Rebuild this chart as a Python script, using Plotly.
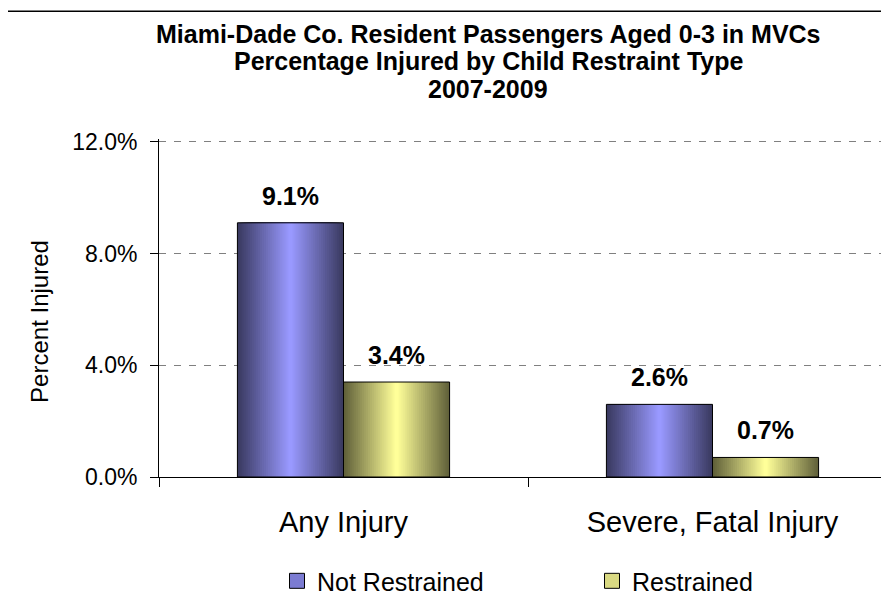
import plotly.graph_objects as go

# %%
# Values
categories = ["Any Injury", "Severe, Fatal Injury"]
series_names = ["Not Restrained", "Restrained"]
not_restrained = [9.1, 2.6]
restrained = [3.4, 0.7]
y_ticks = [0, 4, 8, 12]
title_lines = [
    "Miami-Dade Co. Resident Passengers Aged 0-3 in MVCs",
    "Percentage Injured by Child Restraint Type",
    "2007-2009",
]

# %%
FONT = "Liberation Sans, Arial, sans-serif"
W = 0.2875          # width of one bar, in category units
N_LAYERS = 26       # layers used to fake Excel's horizontal gradient

# The page body has an 8px margin, so screen pixel = figure pixel + 8.
OFF = 8
Y_TOP = 12.1                       # a bit over 12 so the 12% gridline is kept
PX_PER_UNIT = (477 - 142) / 12     # screen: 0% at y=477, 12% at y=142
PL = 159 - OFF
PB = 477 - OFF
PT = PB - Y_TOP * PX_PER_UNIT
PR = 889 - OFF
PW, PH = PR - PL, PB - PT

def px_x(p):
    # screen x pixel -> paper x
    return (p - OFF - PL) / PW

def px_y(p):
    # screen y pixel -> paper y
    return (PB - (p - OFF)) / PH

centre_rgb = {"Not Restrained": (153, 153, 255), "Restrained": (255, 255, 153)}
edge_factor = 0.38
series_values = {"Not Restrained": not_restrained, "Restrained": restrained}
series_side = {"Not Restrained": -1, "Restrained": 1}

fig = go.Figure()

for name in series_names:
    c = centre_rgb[name]
    e = tuple(v * edge_factor for v in c)
    side = series_side[name]
    # gradient layers, widest (darkest) first
    for k in range(N_LAYERS):
        t = k / (N_LAYERS - 1)
        rgb = tuple(int(round(e[i] + (c[i] - e[i]) * t)) for i in range(3))
        w = W * (1 - k / N_LAYERS)
        fig.add_trace(go.Bar(
            x=categories, y=series_values[name],
            width=w, offset=side * W / 2 - w / 2,
            marker=dict(color="rgb(%d,%d,%d)" % rgb, line=dict(width=0)),
            showlegend=False, hoverinfo="skip",
        ))
    # black outline on top
    fig.add_trace(go.Bar(
        x=categories, y=series_values[name],
        width=W, offset=side * W / 2 - W / 2,
        marker=dict(color="rgba(0,0,0,0)", line=dict(color="black", width=1)),
        showlegend=False, name=name,
    ))

# legend-only entries (square markers, a bit larger than plotly's bar swatch)
legend_fill = {"Not Restrained": "#7b7bd2", "Restrained": "#d9d982"}
for name in series_names:
    fig.add_trace(go.Scatter(
        x=[None], y=[None], name=name, mode="markers",
        marker=dict(symbol="square", size=15, color=legend_fill[name],
                    line=dict(color="black", width=1)),
    ))

# value labels
for name in series_names:
    side = series_side[name]
    for i, v in enumerate(series_values[name]):
        fig.add_annotation(
            x=i + side * W / 2, y=v, xref="x", yref="y",
            text="<b>%.1f%%</b>" % v, showarrow=False,
            yanchor="bottom", yshift=11,
            font=dict(family=FONT, size=25, color="black"),
        )

# title, one annotation per line to get Excel's tighter line spacing
for line, ypix in zip(title_lines, [34, 61, 89]):
    fig.add_annotation(
        text="<b>%s</b>" % line, showarrow=False,
        xref="paper", yref="paper", x=px_x(488), y=px_y(ypix),
        xanchor="center", yanchor="middle",
        font=dict(family=FONT, size=25, color="black"),
    )

# y axis title, placed like the Excel one
fig.add_annotation(
    text="Percent Injured", textangle=-90, showarrow=False,
    xref="paper", yref="paper", x=px_x(40), y=px_y(322),
    xanchor="center", yanchor="middle",
    font=dict(family=FONT, size=24, color="black"),
)

# outer chart border (right and bottom edges fall outside the picture)
fig.add_shape(
    type="rect", xref="paper", yref="paper",
    x0=px_x(7), x1=1.2, y0=-0.6, y1=px_y(11.5),
    line=dict(color="black", width=1.5), layer="below",
)

fig.update_layout(
    width=889, height=603,
    margin=dict(l=PL, r=889 - PR, t=PT, b=603 - PB, autoexpand=False),
    barmode="overlay",
    paper_bgcolor="white", plot_bgcolor="white",
    font=dict(family=FONT, color="black"),
    legend=dict(
        orientation="h", x=px_x(277), xanchor="left",
        y=px_y(581), yanchor="middle",
        font=dict(family=FONT, size=25, color="black"),
        entrywidth=270, bgcolor="rgba(0,0,0,0)",
    ),
    showlegend=True,
)

fig.update_xaxes(
    type="category", range=[-0.5, -0.5 + PW / 369],
    showline=True, linecolor="black", linewidth=1,
    ticks="outside", tickson="boundaries", ticklen=9, tickcolor="black",
    ticklabelstandoff=19,
    tickfont=dict(family=FONT, size=29, color="black"),
    showgrid=False, fixedrange=True,
)
fig.update_yaxes(
    range=[0, Y_TOP], tickvals=y_ticks,
    ticktext=["%.1f%%" % v for v in y_ticks],
    showline=True, linecolor="black", linewidth=1,
    ticks="outside", ticklen=8, tickcolor="black",
    ticklabelstandoff=8,
    tickfont=dict(family=FONT, size=23, color="black"),
    showgrid=True, gridcolor="#808080", griddash="7px,8px", gridwidth=1,
    zeroline=False, fixedrange=True,
)

fig.write_html("out.html")
